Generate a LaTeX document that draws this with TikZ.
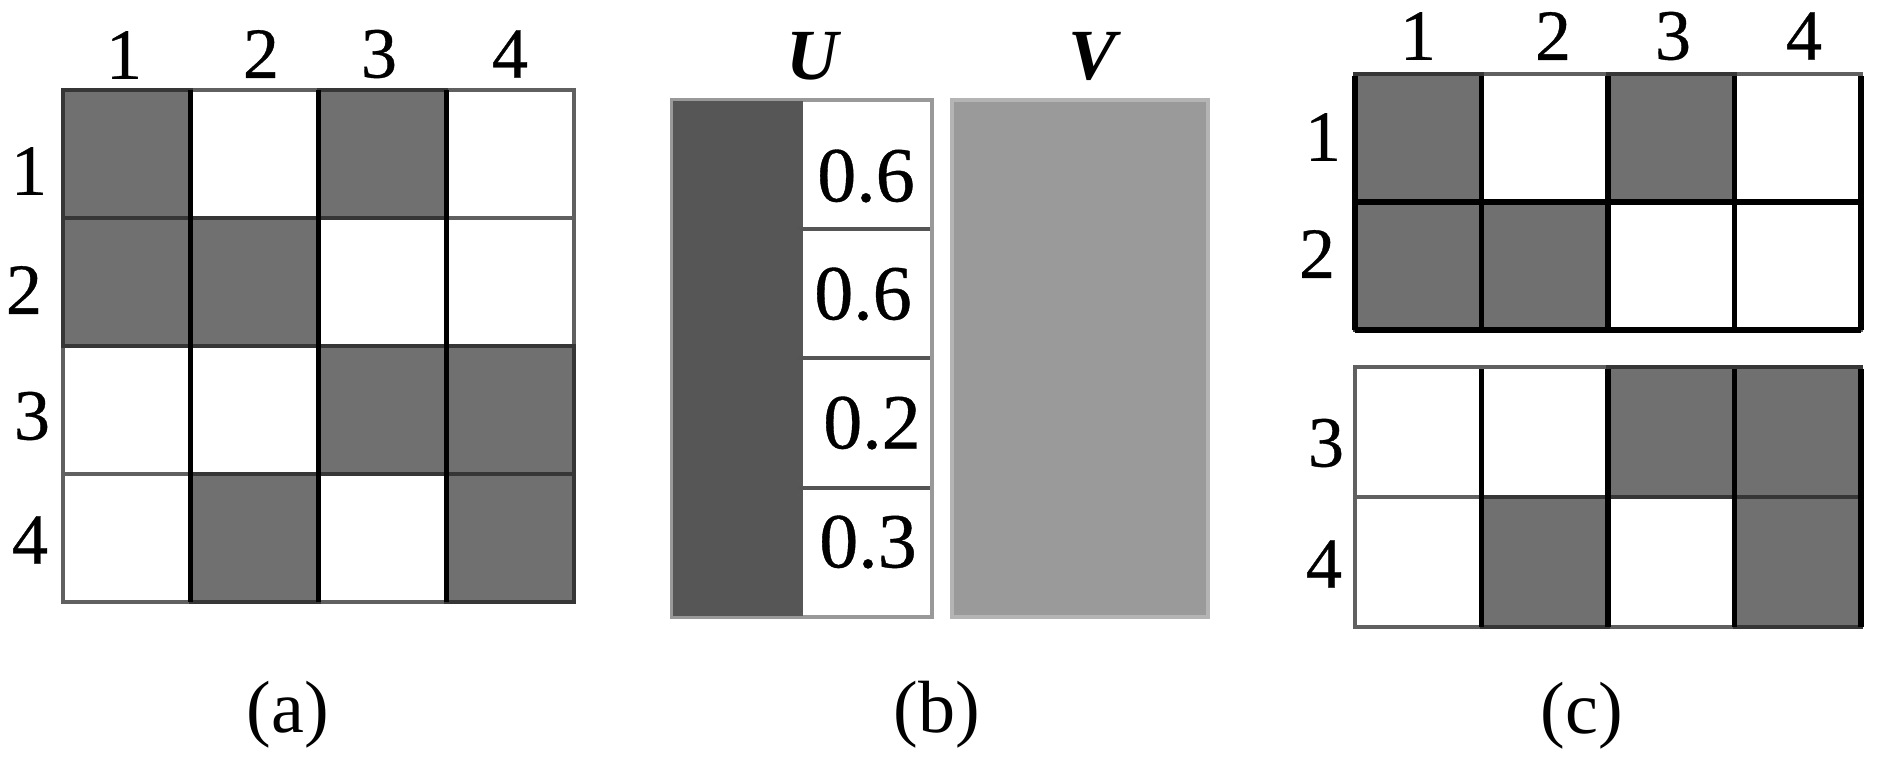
\documentclass[tikz,border=0pt]{standalone}
\usepackage{fontspec}
\setmainfont{Liberation Serif}
\newfontfamily\heavy{Liberation Serif}[BoldFont={Liberation Serif},BoldFeatures={FakeBold=0.5}]
\definecolor{cellgray}{HTML}{707070}
\definecolor{celldark}{HTML}{363636}
\definecolor{cellline}{HTML}{606060}
\definecolor{ufill}{HTML}{565656}
\definecolor{uborder}{HTML}{999999}
\definecolor{udiv}{HTML}{555555}
\definecolor{vfill}{HTML}{9A9A9A}
\definecolor{vborder}{HTML}{B4B4B4}
\begin{document}
\begin{tikzpicture}[x=0.5pt,y=-0.5pt,
  whitecell/.style={fill=white,draw=cellline,line width=2pt},
  darkcell/.style={fill=cellgray,draw=celldark,line width=2pt},
  blackline/.style={draw=black,line width=2.6pt},
  lbl/.style={inner sep=0pt,font=\fontsize{36}{40}\selectfont\heavy\bfseries},
  val/.style={inner sep=0pt,font=\fontsize{39}{42}\selectfont\heavy\bfseries},
  captext/.style={inner sep=0pt,font=\fontsize{37}{42}\selectfont\heavy},
  mat/.style={inner sep=0pt,font=\fontsize{36}{40}\selectfont\bfseries\itshape}]
\useasboundingbox[fill=white] (0,0) rectangle (1890,758);

% ---------------- panel (a) ----------------
\foreach \i/\j in {1/0,3/0,2/1,3/1,0/2,1/2,0/3,2/3}
  \draw[whitecell] ({63+127.75*\i},{90+128*\j}) rectangle ++(127.75,128);
\foreach \i/\j in {0/0,2/0,0/1,1/1,2/2,3/2,1/3,3/3}
  \draw[darkcell] ({63+127.75*\i},{90+128*\j}) rectangle ++(127.75,128);
\foreach \i in {1,2,3}
  \draw[blackline] ({63+127.75*\i},90) -- ({63+127.75*\i},602);

\node[lbl] (ac1) at (124,55) {1};
\node[lbl] (ac2) at (261,54) {2};
\node[lbl] (ac3) at (379,54) {3};
\node[lbl] (ac4) at (510,54) {4};
\node[lbl] (ar1) at (29,171) {1};
\node[lbl] (ar2) at (24,290) {2};
\node[lbl] (ar3) at (32,416) {3};
\node[lbl] (ar4) at (30,540) {4};
\node[captext] (capa) at (288,715) {(a)};

% ---------------- panel (b) ----------------
\fill[white] (803,100) rectangle (932,617);
\draw[uborder,line width=2pt] (672,100) rectangle (932,617);
\fill[ufill] (673,101) rectangle (803,616);
\foreach \y in {229,358,488}
  \draw[udiv,line width=2pt] (797,\y) -- (932,\y);
\draw[uborder,line width=2pt] (932,100) -- (932,617);
\draw[vborder,line width=2pt,fill=vfill] (952,100) rectangle (1208,617);

\node[mat] (lu) at (812,56) {U};
\node[mat] (lv) at (1092,56) {V};
\node[val] (u1) at (866,176) {0.6};
\node[val] (u2) at (863,294) {0.6};
\node[val] (u3) at (872,423) {0.2};
\node[val] (u4) at (868,542) {0.3};
\node[captext] (capb) at (937,715) {(b)};

% ---------------- panel (c) ----------------
\foreach \i/\j in {1/0,3/0,2/1,3/1}
  \draw[whitecell] ({1355+126.5*\i},{74+128*\j}) rectangle ++(126.5,128);
\foreach \i/\j in {0/0,2/0,0/1,1/1}
  \draw[darkcell] ({1355+126.5*\i},{74+128*\j}) rectangle ++(126.5,128);
\foreach \i/\j in {0/0,1/0,0/1,2/1}
  \draw[whitecell] ({1355+126.5*\i},{367+130*\j}) rectangle ++(126.5,130);
\foreach \i/\j in {2/0,3/0,1/1,3/1}
  \draw[darkcell] ({1355+126.5*\i},{367+130*\j}) rectangle ++(126.5,130);
\foreach \i in {0,1,2,3,4}
  \draw[blackline] ({1355+126.5*\i},76) -- ({1355+126.5*\i},330);
\draw[blackline] (1355,202) -- (1861,202);
\draw[blackline] (1355,330) -- (1861,330);
\foreach \i in {1,2,3,4}
  \draw[blackline] ({1355+126.5*\i},369) -- ({1355+126.5*\i},627);

\node[lbl] (cc1) at (1418,36) {1};
\node[lbl] (cc2) at (1553,36) {2};
\node[lbl] (cc3) at (1673,36) {3};
\node[lbl] (cc4) at (1804,36) {4};
\node[lbl] (cr1) at (1323,137) {1};
\node[lbl] (cr2) at (1317,254) {2};
\node[lbl] (cr3) at (1326,443) {3};
\node[lbl] (cr4) at (1324,564) {4};
\node[captext] (capc) at (1582,716) {(c)};
\end{tikzpicture}
\end{document}
